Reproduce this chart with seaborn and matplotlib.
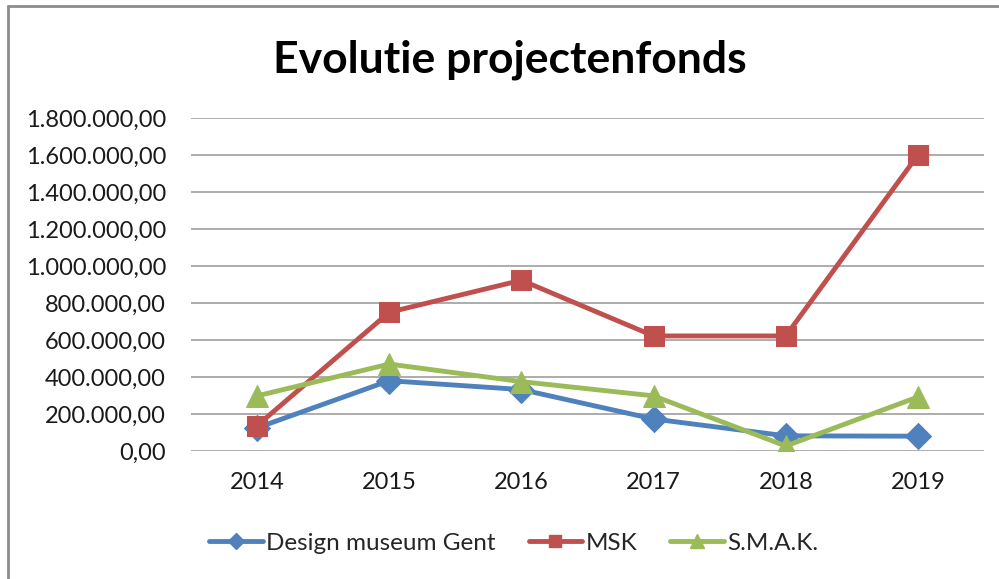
import matplotlib
matplotlib.use("Agg")
import matplotlib.pyplot as plt
import matplotlib.lines as mlines
import seaborn as sns
import pandas as pd

years = ["2014", "2015", "2016", "2017", "2018", "2019"]
design_museum = [125000, 380000, 332000, 173000, 82000, 80000]
msk = [137000, 750000, 923000, 622000, 622000, 1600000]
smak = [298000, 470000, 375000, 298000, 27000, 292000]
series_names = ["Design museum Gent", "MSK", "S.M.A.K."]
y_ticks = [0, 200000, 400000, 600000, 800000, 1000000, 1200000, 1400000, 1600000, 1800000]

colors = ["#4F81BD", "#C0504D", "#9BBB59"]
markers = ["D", "s", "^"]
msizes = [13, 15, 16]

df = pd.DataFrame({
    "year": years * 3,
    "value": design_museum + msk + smak,
    "series": [series_names[0]] * 6 + [series_names[1]] * 6 + [series_names[2]] * 6,
})

sns.set_theme(style="white")
plt.rcParams["font.family"] = ["Lato", "DejaVu Sans"]

fig = plt.figure(figsize=(9.99, 5.79), dpi=100)
ax = fig.add_axes([191 / 999, 1 - 451 / 579, (984 - 191) / 999, (451 - 118) / 579])

for name, c, m, ms in zip(series_names, colors, markers, msizes):
    sub = df[df["series"] == name]
    sns.lineplot(data=sub, x="year", y="value", ax=ax, color=c, linewidth=3.5,
                 marker=m, markersize=ms, markeredgecolor=c, legend=False, sort=False)

ax.set_xlim(-0.5, 5.5)
ax.set_ylim(0, 1800000)
ax.set_yticks(y_ticks)

def fmt(v):
    s = f"{v:,.2f}"
    return s.replace(",", "X").replace(".", ",").replace("X", ".")

ax.set_yticklabels([fmt(v) for v in y_ticks])
ax.set_xlabel("")
ax.set_ylabel("")
ax.tick_params(axis="both", length=0, labelsize=17, colors="#1a1a1a")
ax.tick_params(axis="y", pad=18)
ax.tick_params(axis="x", pad=15)
ax.grid(axis="y", color="#a6a6a6", linewidth=1.3)
ax.set_axisbelow(True)
for s in ax.spines.values():
    s.set_visible(False)

fig.text(0.51, 1 - 60 / 579, "Evolutie projectenfonds", ha="center", va="center",
         fontsize=32, fontweight="bold", color="black")

handles = [mlines.Line2D([], [], color=c, marker=m, markersize=ms * 0.6, linewidth=3.5)
           for c, m, ms in zip(colors, markers, msizes)]
fig.legend(handles, series_names, loc="center", bbox_to_anchor=(0.5145, 1 - 543 / 579),
           ncol=3, frameon=False, fontsize=17.5, handlelength=2.2, handletextpad=0.15,
           columnspacing=1.35)

# chart frame (left and top edges visible)
fig.add_artist(mlines.Line2D([7.5 / 999, 7.5 / 999], [0, 1 - 5.5 / 579], transform=fig.transFigure,
                             color="#8c8c8c", linewidth=2))
fig.add_artist(mlines.Line2D([7.5 / 999, 1], [1 - 5.5 / 579, 1 - 5.5 / 579], transform=fig.transFigure,
                             color="#8c8c8c", linewidth=2))

fig.savefig("out.png", dpi=100)
